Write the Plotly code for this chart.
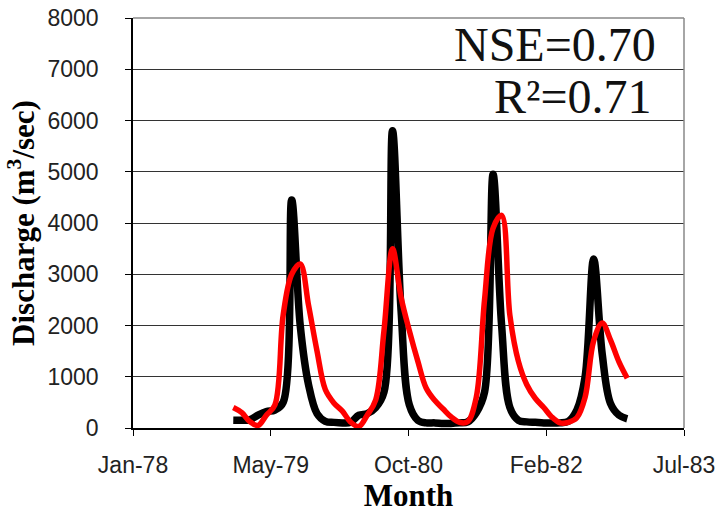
import plotly.graph_objects as go

# Monthly dates (Jan-1979 .. Dec-1982)
years = [1979, 1980, 1981, 1982]
months = [f"{y}-{m:02d}-14" for y in years for m in range(1, 13)]

observed = [
    150, 150, 160, 250, 320, 350, 500, 4450, 2000, 850, 280, 130,
    110, 100, 110, 250, 280, 400, 700, 5800, 2300, 450, 150, 100,
    100, 90, 90, 100, 120, 300, 700, 4950, 2000, 400, 150, 120,
    110, 100, 100, 100, 130, 350, 1000, 3300, 1450, 480, 250, 180,
]
simulated = [
    400, 300, 130, 50, 250, 450, 2200, 3000, 3200, 2400, 1500, 750,
    490, 330, 120, 30, 250, 550, 1900, 3500, 2550, 1900, 1300, 780,
    540, 370, 220, 110, 125, 600, 2500, 3900, 4150, 2200, 1300, 850,
    580, 400, 220, 100, 110, 200, 600, 1700, 2050, 1720, 1290, 970,
]

x_ticks = ["1978-01-15", "1979-05-30", "1980-10-11", "1982-02-23", "1983-07-08"]
y_ticks = [0, 1000, 2000, 3000, 4000, 5000, 6000, 7000, 8000]

fig = go.Figure()
fig.add_trace(go.Scatter(x=months, y=observed, mode="lines",
                         line=dict(color="black", width=7.5, shape="spline", smoothing=1.0),
                         showlegend=False))
fig.add_trace(go.Scatter(x=months, y=simulated, mode="lines",
                         line=dict(color="#ff0000", width=5.5, shape="spline", smoothing=1.0),
                         showlegend=False))

fig.update_layout(
    width=723, height=515,
    margin=dict(l=133, r=39, t=18, b=87, autoexpand=False),
    paper_bgcolor="white", plot_bgcolor="white",
    showlegend=False,
    xaxis=dict(
        type="date", range=[x_ticks[0], x_ticks[-1]],
        tickvals=x_ticks, tickformat="%b-%y",
        ticks="outside", ticklen=6, tickcolor="black", tickwidth=1.2,
        showline=True, linecolor="black", linewidth=1.5,
        showgrid=False, zeroline=False,
        tickfont=dict(family="Liberation Sans, Arial", size=23, color="#222"),
        ticklabelstandoff=10,
        title=dict(text="<b>Month</b>", standoff=6,
                   font=dict(family="Liberation Serif, Times New Roman", size=31, color="black")),
    ),
    yaxis=dict(
        range=[0, 8000], tickvals=y_ticks,
        ticks="outside", ticklen=6, tickcolor="black", tickwidth=1.2,
        showline=True, linecolor="black", linewidth=1.5,
        showgrid=True, gridcolor="#333333", gridwidth=1.3, zeroline=False,
        tickfont=dict(family="Liberation Sans, Arial", size=23, color="#222"),
        ticklabelstandoff=22,
        title=dict(text="<b>Discharge (m<sup>3</sup>/sec)</b>", standoff=4,
                   font=dict(family="Liberation Serif, Times New Roman", size=31, color="black")),
    ),
    shapes=[
        dict(type="line", xref="paper", yref="paper", x0=0, x1=1, y0=1, y1=1,
             line=dict(color="#888888", width=1.5), layer="above"),
        dict(type="line", xref="paper", yref="paper", x0=1, x1=1, y0=0, y1=1,
             line=dict(color="#888888", width=1.5), layer="above"),
    ],
    annotations=[
        dict(text="NSE=0.70", xref="paper", yref="paper", x=(658 - 133) / 551, y=(428 - 45) / 410,
             xanchor="right", yanchor="middle", showarrow=False,
             font=dict(family="Liberation Serif, Times New Roman", size=48, color="#111")),
        dict(text="R²=0.71", xref="paper", yref="paper", x=(653 - 133) / 551, y=(428 - 97) / 410,
             xanchor="right", yanchor="middle", showarrow=False,
             font=dict(family="Liberation Serif, Times New Roman", size=48, color="#111")),
    ],
)

fig.write_html("out.html")
